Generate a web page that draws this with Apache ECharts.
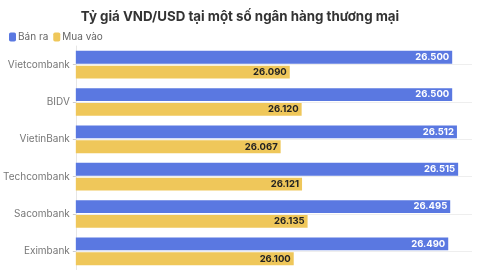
<!DOCTYPE html>
<html><head><meta charset="utf-8">
<script src="https://cdn.jsdelivr.net/npm/echarts@6/dist/echarts.min.js"></script>
<style>html,body{margin:0;padding:0;background:#fff}#c{width:480px;height:270px}</style>
</head><body><div id="c"></div>
<script>
const banks = ['Vietcombank','BIDV','VietinBank','Techcombank','Sacombank','Eximbank'];
const banRa = [26.500, 26.500, 26.512, 26.515, 26.495, 26.490];
const muaVao = [26.090, 26.120, 26.067, 26.121, 26.135, 26.100];
const seriesNames = ['Bán ra','Mua vào'];
const titleText = 'Tỷ giá VND/USD tại một số ngân hàng thương mại';

const fmt = v => v.toFixed(3);
const chart = echarts.init(document.getElementById('c'));
chart.setOption({
  animation:false,
  title:{text:titleText,left:'center',top:5,textStyle:{fontFamily:'Inter',fontSize:13.3,fontWeight:'bold',color:'#333'}},
  legend:{left:4,top:27,itemWidth:7,itemHeight:9,itemGap:5,icon:'roundRect',
    textStyle:{fontFamily:'Inter',fontSize:10,color:'#666',padding:[0,0,0,-3]},data:seriesNames},
  grid:{left:68,right:8,top:46,bottom:0,containLabel:false},
  xAxis:{type:'value',min:25.55,max:26.55,show:false},
  yAxis:{type:'category',data:banks,inverse:true,
    axisLine:{show:true,lineStyle:{color:'#e6e6e6'}},
    axisTick:{show:true,alignWithLabel:true,length:3,lineStyle:{color:'#ccc'}},
    splitLine:{show:true,alignWithLabel:true,lineStyle:{color:'#eee'}},
    axisLabel:{fontFamily:'Inter',fontSize:10,color:'#777',margin:6}},
  series:[
    {name:seriesNames[0],type:'bar',data:banRa,barCategoryGap:'26%',barGap:'15%',
     itemStyle:{color:'#5a78e1'},
     label:{show:true,position:'insideRight',formatter:p=>fmt(p.value),color:'#fff',fontFamily:'Inter',fontSize:9.5,fontWeight:'bold',distance:3}},
    {name:seriesNames[1],type:'bar',data:muaVao,
     itemStyle:{color:'#efc75a'},
     label:{show:true,position:'insideRight',formatter:p=>fmt(p.value),color:'#222',fontFamily:'Inter',fontSize:9.5,fontWeight:'bold',distance:3}}
  ]
});
</script></body></html>
